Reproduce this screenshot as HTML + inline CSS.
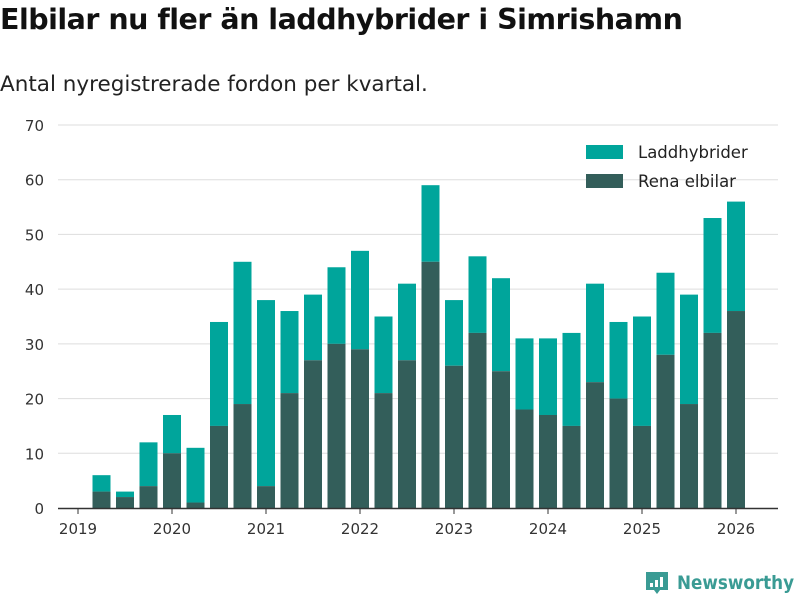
<!DOCTYPE html>
<html><head><meta charset="utf-8"><style>
body{margin:0;background:#fff;font-family:"DejaVu Sans","Liberation Sans",sans-serif;}
#wrap{position:relative;width:800px;height:600px;overflow:hidden;}
h1{position:absolute;left:0;top:3px;margin:0;font-size:28.5px;font-weight:bold;color:#111;letter-spacing:-0.5px;}
.sub{position:absolute;left:0;top:72px;font-size:21.5px;color:#222;}
</style></head><body>
<div id="wrap">
<h1>Elbilar nu fler än laddhybrider i Simrishamn</h1>
<div class="sub">Antal nyregistrerade fordon per kvartal.</div>
<svg id="chart" width="800" height="600" style="position:absolute;left:0;top:0"></svg>
</div>
<script>
const years=[2019,2020,2021,2022,2023,2024,2025,2026];
const yTicks=[0,10,20,30,40,50,60,70];
const totals=[6,3,12,17,11,34,45,38,36,39,44,47,35,41,59,38,46,42,31,31,32,41,34,35,43,39,53,56];
const elbilar=[3,2,4,10,1,15,19,4,21,27,30,29,21,27,45,26,32,25,18,17,15,23,20,15,28,19,32,36];
const NS="http://www.w3.org/2000/svg";
const svg=document.getElementById('chart');
function y(v){return 508-v*(383/70);}
function xq(i){return 78+(i+1)*23.5;}
function xy(yr){return 78+(yr-2019)*94;}
function mk(t,a){const e=document.createElementNS(NS,t);for(const k in a)e.setAttribute(k,a[k]);svg.appendChild(e);return e;}
yTicks.forEach(v=>{
 if(v>0){const l=mk('line',{x1:58,x2:778,y1:y(v),y2:y(v),stroke:'#ddd','stroke-width':1});
 
 }
 const t=mk('text',{x:44,y:y(v)+6,'text-anchor':'end','font-size':15,fill:'#333','font-family':'DejaVu Sans, sans-serif'});
 t.textContent=v;
 
 
});
totals.forEach((tot,i)=>{
 const cx=xq(i),w=18,e=elbilar[i];
 const r1=mk('rect',{x:cx-w/2,y:y(tot),width:w,height:y(e)-y(tot),fill:'#00a59b'});
 
 
 const r2=mk('rect',{x:cx-w/2,y:y(e),width:w,height:508-y(e),fill:'#335e5a'});
 
 
});
const ax=mk('line',{x1:58,x2:778,y1:508.5,y2:508.5,stroke:'#333','stroke-width':1.5});


years.forEach(yr=>{
 const tk=mk('line',{x1:xy(yr),x2:xy(yr),y1:508,y2:514,stroke:'#333','stroke-width':1});
 
 
 const t=mk('text',{x:xy(yr),y:534,'text-anchor':'middle','font-size':15,fill:'#333','font-family':'DejaVu Sans, sans-serif'});
 t.textContent=yr;
 
 
});
[['Laddhybrider','#00a59b',152],['Rena elbilar','#335e5a',181]].forEach(([n,c,yy],k)=>{
 const r=mk('rect',{x:586,y:yy-7,width:37,height:14,fill:c});
 
 
 const t=mk('text',{x:638,y:yy+6,'font-size':16.5,fill:'#222','font-family':'DejaVu Sans, sans-serif'});
 t.textContent=n;
 
 
});
const lg=mk('g',{});


const p=document.createElementNS(NS,'path');
p.setAttribute('d','M646 572 h22 v18 h-8 l-3 4 l-3 -4 h-8 z');
p.setAttribute('fill','#3a9b94');
lg.appendChild(p);
[[650,583,3,4],[655,580,3,7],[660,577,3,10]].forEach(b=>{const r=document.createElementNS(NS,'rect');r.setAttribute('x',b[0]);r.setAttribute('y',b[1]);r.setAttribute('width',b[2]);r.setAttribute('height',b[3]);r.setAttribute('fill','#fff');lg.appendChild(r);});
const lt=document.createElementNS(NS,'text');
lt.setAttribute('x',677);lt.setAttribute('y',589);lt.setAttribute('font-size',19);lt.setAttribute('font-weight','bold');lt.setAttribute('fill','#3a9b94');lt.setAttribute('font-family','DejaVu Sans, sans-serif');
lt.setAttribute('textLength',117);lt.setAttribute('lengthAdjust','spacingAndGlyphs');
lt.textContent='Newsworthy';
lg.appendChild(lt);
svg.appendChild(lg);
</script>
</body></html>
